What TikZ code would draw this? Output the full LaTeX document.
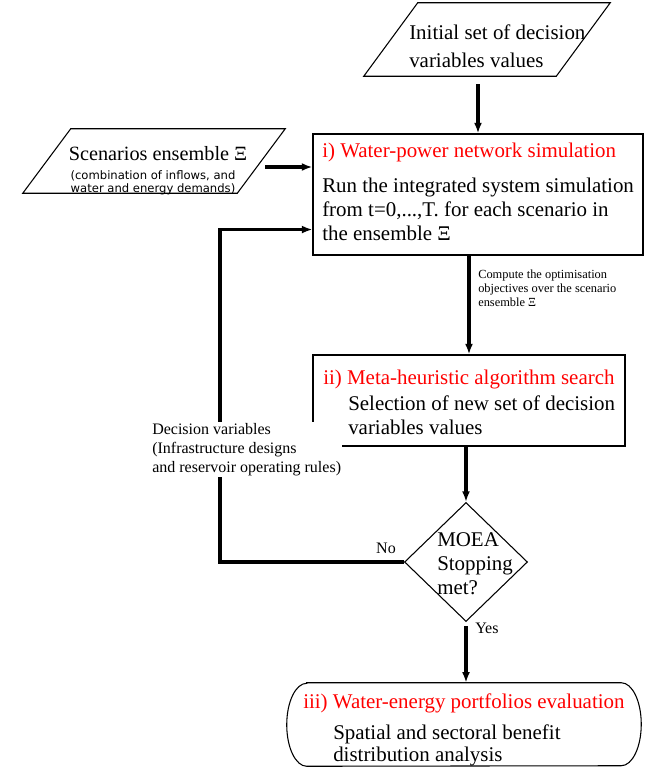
\documentclass[tikz,border=0pt]{standalone}
\usepackage{fontspec}
\setmainfont{Liberation Serif}
\newfontfamily\demandfont{DejaVu Sans}
\usetikzlibrary{arrows.meta,shapes.geometric}

\newcommand{\mainsize}{\fontsize{15.7pt}{18pt}\selectfont}
\newcommand{\loopsize}{\fontsize{12pt}{14.25pt}\selectfont}
\newcommand{\objsize}{\fontsize{9.3pt}{10.5pt}\selectfont}
\newcommand{\sanssize}{\fontsize{8.7pt}{9.75pt}\selectfont}

\begin{document}
\begin{tikzpicture}[x=0.75pt,y=0.75pt,yscale=-1,xscale=1,
  arrowline/.style={line width=2.5pt,-{Latex[length=8pt,width=6pt]}},
  shapeline/.style={line width=0.8pt},
  procbox/.style={draw,line width=0.8pt,inner sep=0pt},
  holder/.style={inner sep=0pt}]
\useasboundingbox (0,0) rectangle (659,769);

%Shape: Parallelogram [initial values]
\node (init) [holder,minimum width=144pt,minimum height=54.75pt] at (487,39.5) {};
\draw [shapeline] ([shift={(27,0)}]init.north west) -- ([shift={(27,0)}]init.north east) -- ([shift={(-27,0)}]init.south east) -- ([shift={(-27,0)}]init.south west) -- cycle ;
%Shape: Parallelogram [scenarios]
\node (scen) [holder,minimum width=160.5pt,minimum height=48pt] at (154,161) {};
\draw [shapeline] ([shift={(24,0)}]scen.north west) -- ([shift={(24,0)}]scen.north east) -- ([shift={(-24,0)}]scen.south east) -- ([shift={(-24,0)}]scen.south west) -- cycle ;
%Shape: Rectangle [simulation]
\node (sim) [procbox,minimum width=247.5pt,minimum height=90.75pt] at (478,194.5) {};
%Shape: Rectangle [search]
\node (search) [procbox,minimum width=234pt,minimum height=68.25pt] at (469,400.5) {};
%Shape: Diamond [stopping]
\node (stop) [procbox,diamond,minimum width=92.25pt,minimum height=89.25pt] at (466,562) {};
%Shape: Terminal [evaluation]
\node (eval) [holder,minimum width=235.5pt,minimum height=62.25pt] at (464,724.5) {};
\draw [shapeline] (eval.north west) -- (eval.north east) arc [start angle=-90,end angle=90,x radius=20,y radius=41.5] -- (eval.south west) arc [start angle=90,end angle=270,x radius=20,y radius=41.5] -- cycle ;

%Straight Lines
\draw [arrowline] (sim.north |- init.south) ++(0,8) -- (sim.north) ;
\draw [arrowline] (scen.east) ++(4,6) coordinate (scenout) -- (scenout -| sim.west) ;
\draw [arrowline] (sim.south -| search.north) -- (search.north) ;
\draw [arrowline] (search.south -| stop.north) -- (stop.north) ;
\draw [arrowline] (stop.south) ++(0,4) -- (stop.south |- eval.north) ;
%Loop back
\draw [arrowline] (stop.west) -- ++(-184,0) |- ([shift={(0,-26)}]sim.south west) ;

% Text Node
\draw (408,23) node [anchor=north west][inner sep=0.75pt,align=left,font=\fontsize{15.7pt}{21pt}\selectfont] (inittxt) {Initial set of decision\\variables values};
% Text Node
\draw (158,160) node [anchor=base][inner sep=0.75pt,font=\fontsize{15.2pt}{18pt}\selectfont] (scentxt) {Scenarios ensemble Ξ};
% Text Node
\draw (153,169) node [anchor=north][inner sep=0.75pt,align=center,font=\demandfont\sanssize] (scennote) {(combination of inflows, and\\water and energy demands)};
% Text Node
\draw (321,142) node [anchor=north west][inner sep=0.75pt,align=left,font=\mainsize] (simtxt) {\textcolor{red}{i) Water-power network simulation}\\[8.25pt]Run the integrated system simulation\\from t=0,...,T. for each scenario in\\the ensemble Ξ};
% Text Node
\draw (477,269) node [anchor=north west][inner sep=0.75pt,align=left,font=\objsize] (objtxt) {Compute the optimisation\\objectives over the scenario\\ensemble Ξ};
% Text Node
\draw (322,369) node [anchor=north west][inner sep=0.75pt,align=left,font=\mainsize] (searchtxt) {\textcolor{red}{ii) Meta-heuristic algorithm search}\\[1.5pt]\hspace*{18.75pt}Selection of new set of decision\\\hspace*{18.75pt}variables values};
% Text Node
\draw (151,422) node [anchor=north west][inner sep=0.75pt,align=left,fill=white,font=\loopsize] (dectxt) {Decision variables\\(Infrastructure designs\\and reservoir operating rules)};
% Text Node
\draw (436,531) node [anchor=north west][inner sep=0.75pt,align=left,font=\mainsize] (stoptxt) {MOEA\\Stopping\\met?};
% Text Node
\draw (386,553) node [anchor=base][inner sep=0.75pt,font=\loopsize] (notxt) {No};
% Text Node
\draw (474,633) node [anchor=base west][inner sep=0.75pt,font=\loopsize] (yestxt) {Yes};
% Text Node
\draw (302,692) node [anchor=north west][inner sep=0.75pt,align=left,font=\fontsize{15.7pt}{16.5pt}\selectfont] (evaltxt) {\textcolor{red}{iii) Water-energy portfolios evaluation}\\[6.75pt]\hspace*{22.5pt}Spatial and sectoral benefit\\\hspace*{22.5pt}distribution analysis};

\end{tikzpicture}
\end{document}
